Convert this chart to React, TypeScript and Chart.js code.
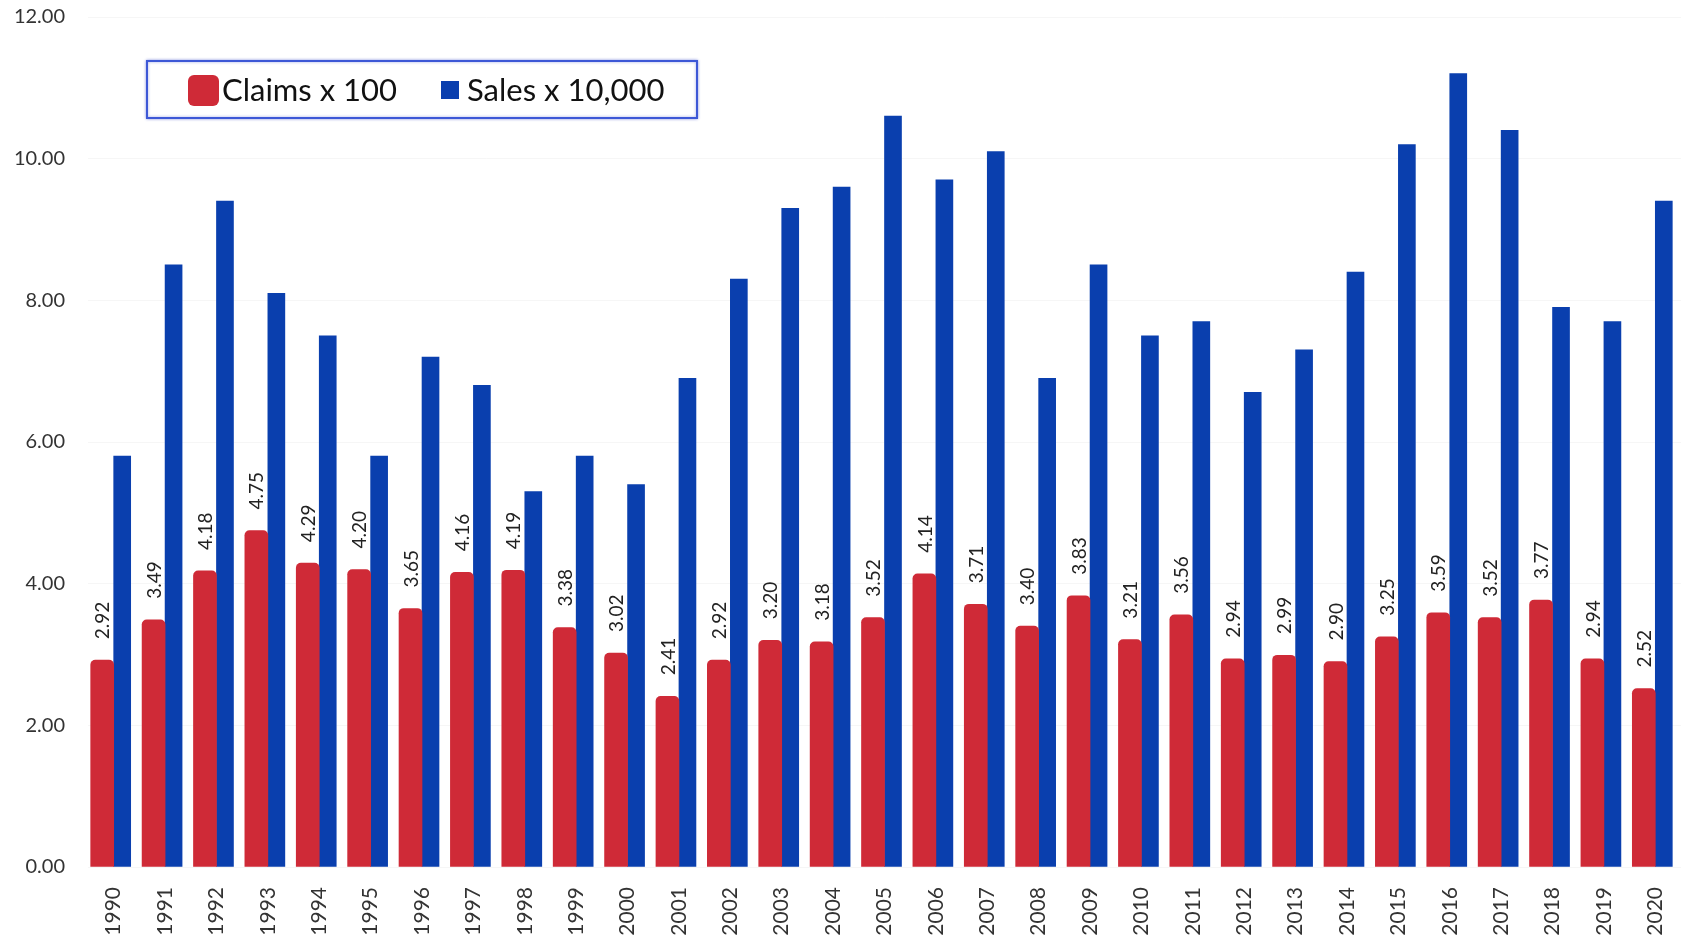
import React, { useEffect, useRef } from "react";
import { Chart, registerables } from "chart.js";

Chart.register(...registerables);

// Yearly figures
const years = [
  "1990", "1991", "1992", "1993", "1994", "1995", "1996", "1997", "1998", "1999",
  "2000", "2001", "2002", "2003", "2004", "2005", "2006", "2007", "2008", "2009",
  "2010", "2011", "2012", "2013", "2014", "2015", "2016", "2017", "2018", "2019", "2020",
];

const claims = [
  2.92, 3.49, 4.18, 4.75, 4.29, 4.2, 3.65, 4.16, 4.19, 3.38,
  3.02, 2.41, 2.92, 3.2, 3.18, 3.52, 4.14, 3.71, 3.4, 3.83,
  3.21, 3.56, 2.94, 2.99, 2.9, 3.25, 3.59, 3.52, 3.77, 2.94, 2.52,
];

const sales = [
  5.8, 8.5, 9.4, 8.1, 7.5, 5.8, 7.2, 6.8, 5.3, 5.8,
  5.4, 6.9, 8.3, 9.3, 9.6, 10.6, 9.7, 10.1, 6.9, 8.5,
  7.5, 7.7, 6.7, 7.3, 8.4, 10.2, 11.2, 10.4, 7.9, 7.7, 9.4,
];

const seriesLabels = ["Claims x 100", "Sales x 10,000"];
const yTicks = [0, 2, 4, 6, 8, 10, 12];

const RED = "#cf2a37";
const BLUE = "#0a3fae";
const FONT = "Lato, 'Noto Sans', sans-serif";

// Vertical value labels above the claims bars
const claimLabels = {
  id: "claimLabels",
  afterDatasetsDraw(chart: any) {
    const meta = chart.getDatasetMeta(0);
    const ctx = chart.ctx;
    ctx.save();
    ctx.font = `19px ${FONT}`;
    ctx.fillStyle = "#222";
    ctx.textAlign = "left";
    ctx.textBaseline = "middle";
    meta.data.forEach((bar: any, i: number) => {
      ctx.save();
      ctx.translate(bar.x + 1, bar.y - 21);
      ctx.rotate(-Math.PI / 2);
      ctx.fillText(claims[i].toFixed(2), 0, 0);
      ctx.restore();
    });
    ctx.restore();
  },
};

// Boxed legend with a rounded red swatch and a small blue square
const boxLegend = {
  id: "boxLegend",
  afterDraw(chart: any) {
    const ctx = chart.ctx;
    ctx.save();
    ctx.shadowColor = "rgba(40,60,200,0.45)";
    ctx.shadowBlur = 3;
    ctx.fillStyle = "#fff";
    ctx.fillRect(147, 61, 550, 57);
    ctx.strokeStyle = "#3d58d6";
    ctx.lineWidth = 2;
    ctx.strokeRect(147, 61, 550, 57);
    ctx.shadowBlur = 0;
    ctx.shadowColor = "transparent";

    ctx.fillStyle = RED;
    ctx.beginPath();
    (ctx as any).roundRect(188, 75, 31, 31, 6);
    ctx.fill();

    ctx.fillStyle = BLUE;
    ctx.fillRect(441, 81, 18, 18);

    ctx.fillStyle = "#111";
    ctx.font = `31px ${FONT}`;
    ctx.textAlign = "left";
    ctx.textBaseline = "middle";
    ctx.fillText(seriesLabels[0], 222, 91);
    ctx.fillText(seriesLabels[1], 467, 91);
    ctx.restore();
  },
};

export default function App() {
  const canvasRef = useRef<HTMLCanvasElement | null>(null);

  useEffect(() => {
    if (!canvasRef.current) return;
    const chart = new Chart(canvasRef.current, {
      type: "bar",
      data: {
        labels: years,
        datasets: [
          {
            label: seriesLabels[0],
            data: claims,
            backgroundColor: RED,
            barThickness: 23,
            borderRadius: { topLeft: 5, topRight: 5, bottomLeft: 0, bottomRight: 0 },
            borderSkipped: false,
          },
          {
            label: seriesLabels[1],
            data: sales,
            backgroundColor: BLUE,
            barThickness: 17,
          },
        ],
      },
      options: {
        responsive: false,
        animation: false,
        devicePixelRatio: 1,
        layout: { padding: { top: 17, left: 0, right: 0, bottom: 0 } },
        plugins: {
          legend: { display: false },
          tooltip: { enabled: false },
        },
        scales: {
          x: {
            grid: {
              display: true,
              drawOnChartArea: false,
              drawTicks: true,
              tickLength: 20,
              tickColor: "rgba(0,0,0,0)",
            },
            border: { display: false },
            ticks: {
              minRotation: 90,
              maxRotation: 90,
              autoSkip: false,
              padding: 0,
              color: "#333",
              font: { family: FONT, size: 21 },
            },
            afterFit(scale: any) {
              scale.height = 72;
            },
          },
          y: {
            min: 0,
            max: 12,
            afterBuildTicks(scale: any) {
              scale.ticks = yTicks.map((v) => ({ value: v }));
            },
            grid: {
              color: "rgba(0,0,0,0.035)",
              drawTicks: true,
              tickLength: 23,
              tickColor: "rgba(0,0,0,0)",
            },
            border: { display: false },
            ticks: {
              padding: 0,
              color: "#333",
              font: { family: FONT, size: 20 },
              callback: (v: any) => Number(v).toFixed(2),
            },
            afterFit(scale: any) {
              scale.width = 88;
            },
          },
        },
      },
      plugins: [claimLabels, boxLegend],
    });
    return () => chart.destroy();
  }, []);

  return (
    <div style={{ position: "absolute", left: 0, top: 0, width: 1681, height: 939, background: "#fff" }}>
      <canvas ref={canvasRef} width={1681} height={939} style={{ display: "block" }} />
    </div>
  );
}
